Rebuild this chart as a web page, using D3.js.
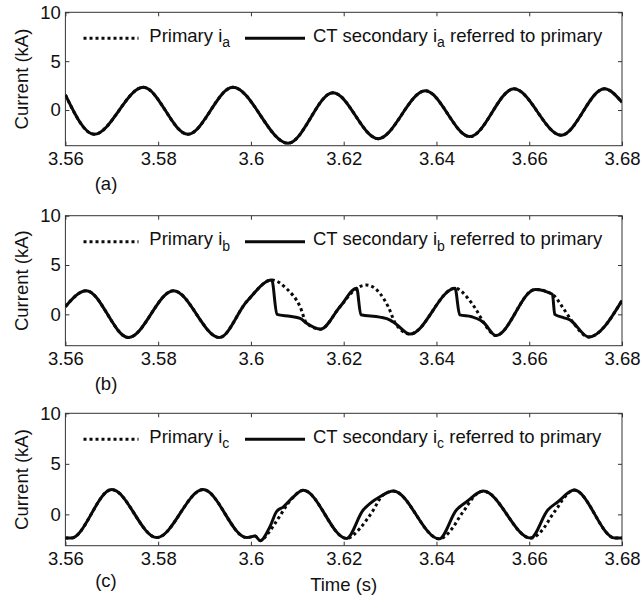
<!DOCTYPE html>
<html>
<head>
<meta charset="utf-8">
<script src="https://cdn.jsdelivr.net/npm/d3@7"></script>
<style>
  html, body { margin: 0; padding: 0; background: #fff; }
  svg { display: block; }
  text { font-family: "Liberation Sans", Arial, Helvetica, sans-serif; fill: #111; }
</style>
</head>
<body>
<svg id="chart" width="641" height="600"></svg>
<script>
// ---- Data: time (s) and current (kA) ----
const timeTicks = [3.56, 3.58, 3.6, 3.62, 3.64, 3.66, 3.68];
const timeTickLabels = ["3.56", "3.58", "3.6", "3.62", "3.64", "3.66", "3.68"];
const currentTicks = [0, 5, 10];
const currentTickLabels = ["0", "5", "10"];
const currentMin = [-3.65, -3.18, -3.1];
const currentMax = 10;
const phaseNames = ["a", "b", "c"];
const panelLabels = ["(a)", "(b)", "(c)"];

// Phase a: no saturation, the CT output follows the primary current
const iaPrimary = [
  [3.5600, 1.55], [3.5662, -2.48], [3.5768, 2.32], [3.5864, -2.48],
  [3.5961, 2.32], [3.6080, -3.40], [3.6177, 1.77], [3.6274, -2.93],
  [3.6376, 1.97], [3.6472, -2.72], [3.6567, 2.17], [3.6669, -2.58],
  [3.6762, 2.17], [3.6800, 0.80]
];
const iaSecondary = iaPrimary;

// Phase b: CT saturates after each positive peak
const ibPrimary = [
  [3.5600, 0.78], [3.5645, 2.40], [3.5736, -2.35], [3.5833, 2.40],
  [3.5932, -2.35], [3.5991, 1.30], [3.6045, 3.48], [3.6077, 2.60],
  [3.6106, 0.77], [3.6120, -0.90], [3.6150, -1.50], [3.6192, 0.77],
  [3.6228, 2.64], [3.6249, 2.97], [3.6278, 2.13], [3.6296, 0.77],
  [3.6312, -0.95], [3.6343, -2.00], [3.6440, 2.65], [3.6468, 1.62],
  [3.6486, 0.44], [3.6502, -0.85], [3.6528, -2.15], [3.6613, 2.53],
  [3.6650, 2.03], [3.6671, 0.78], [3.6694, -0.80], [3.6728, -2.30],
  [3.6800, 1.40]
];
const ibSecondary = [
  [3.5600, 0.78], [3.5645, 2.40], [3.5736, -2.35], [3.5833, 2.40],
  [3.5932, -2.35], [3.5991, 1.30], [3.6045, 3.48], [3.6056, 0.00],
  [3.6084, -0.20], [3.6106, -0.40], [3.6120, -0.90], [3.6150, -1.50],
  [3.6192, 0.77], [3.6228, 2.64], [3.6237, -0.05], [3.6278, -0.28],
  [3.6300, -0.58], [3.6312, -0.95], [3.6343, -2.00], [3.6440, 2.65],
  [3.6450, -0.05], [3.6476, -0.24], [3.6494, -0.58], [3.6502, -0.85],
  [3.6528, -2.15], [3.6613, 2.53], [3.6650, 2.03], [3.6655, 0.00],
  [3.6675, -0.35], [3.6688, -0.57], [3.6694, -0.80], [3.6728, -2.30],
  [3.6800, 1.40]
];

// Phase c: small distortion on the rising edges
const icPrimary = [
  [3.5600, -2.35], [3.5612, -2.35], [3.5700, 2.45], [3.5797, -2.30],
  [3.5897, 2.45], [3.5991, -2.30], [3.6009, -2.15], [3.6020, -2.60],
  [3.6037, -1.88], [3.6052, -0.89], [3.6066, 0.10], [3.6080, 1.09],
  [3.6090, 1.65], [3.6113, 2.38], [3.6206, -2.38], [3.6235, -1.39],
  [3.6249, -0.56], [3.6264, 0.43], [3.6274, 1.25], [3.6282, 1.80],
  [3.6307, 2.30], [3.6406, -2.42], [3.6436, -1.26], [3.6450, -0.24],
  [3.6465, 0.75], [3.6475, 1.45], [3.6501, 2.30], [3.6603, -2.35],
  [3.6633, -1.26], [3.6647, -0.24], [3.6662, 0.75], [3.6672, 1.45],
  [3.6697, 2.40], [3.6785, -2.35], [3.6800, -2.35]
];
const icSecondary = [
  [3.5600, -2.35], [3.5612, -2.35], [3.5700, 2.45], [3.5797, -2.30],
  [3.5897, 2.45], [3.5991, -2.30], [3.6009, -2.15], [3.6020, -2.60],
  [3.6041, -1.22], [3.6055, 0.26], [3.6070, 0.75], [3.6088, 1.58],
  [3.6113, 2.38], [3.6206, -2.38], [3.6242, 0.43], [3.6257, 1.09],
  [3.6278, 1.74], [3.6307, 2.30], [3.6406, -2.42], [3.6443, 0.43],
  [3.6465, 1.25], [3.6501, 2.30], [3.6603, -2.35], [3.6640, 0.43],
  [3.6662, 1.25], [3.6697, 2.40], [3.6785, -2.35], [3.6800, -2.35]
];

const primarySeries = [iaPrimary, ibPrimary, icPrimary];
const secondarySeries = [iaSecondary, ibSecondary, icSecondary];

// ---- Layout ----
const svg = d3.select("#chart");
const plotLeft = 65.4, plotRight = 622;
const panelTop = [12.3, 215.7, 413.3];
const panelBottom = [145.7, 345.7, 545.7];
const axisColor = "#333";
const lineColor = "#0a0a0a";
const fontSize = 18.5;
const subSize = 14;

const x = d3.scaleLinear().domain([timeTicks[0], timeTicks[timeTicks.length - 1]]).range([plotLeft, plotRight]);

const defs = svg.append("defs");

phaseNames.forEach((phase, i) => {
  const top = panelTop[i], bottom = panelBottom[i];
  const y = d3.scaleLinear().domain([currentMin[i], currentMax]).range([bottom, top]);
  const g = svg.append("g").attr("class", "panel-" + phase);

  defs.append("clipPath").attr("id", "clip-" + phase)
    .append("rect").attr("x", plotLeft).attr("y", top)
    .attr("width", plotRight - plotLeft).attr("height", bottom - top);

  // axes with inward ticks on all four sides
  const bottomAxis = d3.axisBottom(x).tickValues(timeTicks)
    .tickFormat((d, k) => timeTickLabels[k]).tickSizeInner(-4).tickSizeOuter(0).tickPadding(6.5);
  const topAxis = d3.axisTop(x).tickValues(timeTicks).tickFormat("").tickSizeInner(-4).tickSizeOuter(0);
  const leftAxis = d3.axisLeft(y).tickValues(currentTicks)
    .tickFormat((d, k) => currentTickLabels[k]).tickSizeInner(-4).tickSizeOuter(0).tickPadding(4.5);
  const rightAxis = d3.axisRight(y).tickValues(currentTicks).tickFormat("").tickSizeInner(-4).tickSizeOuter(0);

  const axes = [
    g.append("g").attr("transform", `translate(0,${bottom})`).call(bottomAxis),
    g.append("g").attr("transform", `translate(0,${top})`).call(topAxis),
    g.append("g").attr("transform", `translate(${plotLeft},0)`).call(leftAxis),
    g.append("g").attr("transform", `translate(${plotRight},0)`).call(rightAxis)
  ];
  axes.forEach(a => {
    a.select(".domain").remove();
    a.selectAll(".tick line").attr("stroke", axisColor).attr("stroke-width", 1);
    a.selectAll(".tick text").attr("font-size", fontSize).attr("fill", "#111")
      .attr("font-family", '"Liberation Sans", Arial, sans-serif');
  });

  g.append("rect").attr("x", plotLeft).attr("y", top)
    .attr("width", plotRight - plotLeft).attr("height", bottom - top)
    .attr("fill", "none").attr("stroke", axisColor).attr("stroke-width", 1);

  const line = d3.line().x(d => x(d[0])).y(d => y(d[1])).curve(d3.curveMonotoneX);
  const traces = g.append("g").attr("clip-path", `url(#clip-${phase})`);
  traces.append("path").datum(primarySeries[i])
    .attr("d", line).attr("fill", "none").attr("stroke", lineColor)
    .attr("stroke-width", 3).attr("stroke-dasharray", "3 3");
  traces.append("path").datum(secondarySeries[i])
    .attr("d", line).attr("fill", "none").attr("stroke", lineColor)
    .attr("stroke-width", 3).attr("stroke-linejoin", "round");

  // legend
  const ly = top + 26;
  g.append("line").attr("x1", 83.5).attr("x2", 138.5).attr("y1", ly).attr("y2", ly)
    .attr("stroke", lineColor).attr("stroke-width", 3).attr("stroke-dasharray", "3 3");
  const t1 = g.append("text").attr("x", 149.3).attr("y", top + 29.5).attr("font-size", fontSize);
  t1.append("tspan").text("Primary i");
  t1.append("tspan").attr("dy", 5.5).attr("font-size", subSize).text(phase);

  g.append("line").attr("x1", 245).attr("x2", 305).attr("y1", ly).attr("y2", ly)
    .attr("stroke", lineColor).attr("stroke-width", 3);
  const t2 = g.append("text").attr("x", 313).attr("y", top + 29.5).attr("font-size", fontSize);
  t2.append("tspan").text("CT secondary i");
  t2.append("tspan").attr("dy", 5.5).attr("font-size", subSize).text(phase);
  t2.append("tspan").attr("dy", -5.5).text(" referred to primary");

  // y label
  g.append("text")
    .attr("transform", `translate(28,${(top + bottom) / 2}) rotate(-90)`)
    .attr("text-anchor", "middle").attr("font-size", fontSize).text("Current (kA)");

  // panel tag
  g.append("text").attr("x", 106).attr("y", bottom + (i === 2 ? 41 : 44))
    .attr("text-anchor", "middle").attr("font-size", fontSize).text(panelLabels[i]);

  if (i === 2) {
    g.append("text").attr("x", (plotLeft + plotRight) / 2).attr("y", bottom + 45)
      .attr("text-anchor", "middle").attr("font-size", fontSize).text("Time (s)");
  }
});
</script>
</body>
</html>
